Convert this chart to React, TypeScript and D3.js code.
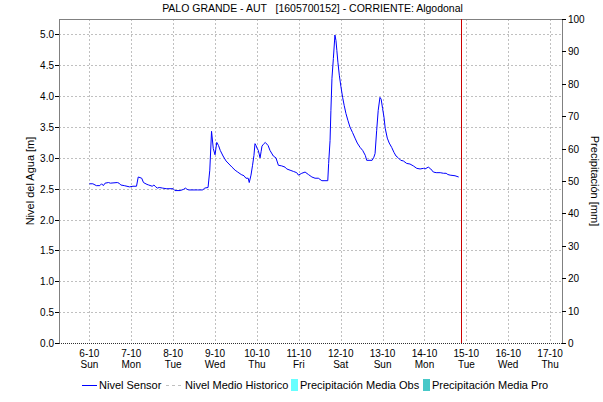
import React from "react";
import * as d3 from "d3";

const titulo = "PALO GRANDE - AUT   [1605700152] - CORRIENTE: Algodonal";
const inicio = new Date(2024, 9, 6, 0, 0);
const horas = [0, 2, 4, 6, 7, 8, 9, 11, 12, 16, 17, 18, 20, 23, 25, 27, 28, 30, 31, 33, 34, 36, 37, 38, 39, 40, 42, 44, 48, 49, 52, 54, 55, 56, 57, 62, 65, 66, 68, 69, 70, 71, 72, 73, 74, 75, 76.6, 78.3, 80, 81.7, 83.5, 85, 87, 88.6, 89.7, 91, 91.6, 92.6, 93.5, 94.3, 94.9, 95.5, 96, 96.8, 97.8, 98.4, 98.9, 99.7, 100.8, 102.4, 103.5, 105.4, 106.9, 108.3, 110.2, 112.1, 113.1, 115, 116.9, 118.8, 119.8, 121.7, 123.6, 125.5, 127.5, 129.3, 131.2, 133.2, 135, 136.6, 137.1, 137.9, 138.4, 139, 139.8, 140.7, 141.3, 141.8, 142.4, 143.2, 144.1, 145.1, 146, 147, 148.1, 149.3, 150.8, 152.2, 153.5, 155.1, 156.6, 158.1, 158.9, 162, 163, 163.7, 164.6, 165.5, 166.5, 167.2, 168, 168.8, 169.5, 170.7, 171.8, 173.2, 174.5, 175.7, 177, 178.4, 179.9, 181.8, 183.7, 185.6, 187.6, 189.5, 191.4, 192.3, 194.2, 195.6, 197.1, 198.7, 201, 202.9, 204.4, 205.4, 206.7, 209.5, 211.6];
const nivel = [2.58, 2.58, 2.55, 2.55, 2.58, 2.55, 2.59, 2.60, 2.59, 2.60, 2.59, 2.56, 2.55, 2.53, 2.54, 2.54, 2.69, 2.67, 2.60, 2.57, 2.56, 2.54, 2.56, 2.53, 2.51, 2.52, 2.51, 2.50, 2.50, 2.47, 2.47, 2.49, 2.51, 2.49, 2.48, 2.48, 2.48, 2.51, 2.52, 2.80, 3.43, 3.15, 3.05, 3.25, 3.20, 3.12, 3.03, 2.95, 2.90, 2.85, 2.80, 2.77, 2.73, 2.71, 2.67, 2.67, 2.60, 2.72, 2.88, 3.04, 3.23, 3.20, 3.16, 3.12, 3.00, 3.10, 3.19, 3.22, 3.25, 3.20, 3.12, 3.03, 3.00, 2.88, 2.87, 2.85, 2.82, 2.80, 2.78, 2.76, 2.72, 2.75, 2.77, 2.73, 2.69, 2.67, 2.67, 2.63, 2.63, 2.63, 2.91, 3.28, 3.77, 4.29, 4.61, 4.99, 4.90, 4.74, 4.55, 4.34, 4.16, 3.98, 3.85, 3.72, 3.61, 3.50, 3.41, 3.32, 3.24, 3.17, 3.12, 3.04, 2.96, 2.96, 3.01, 3.07, 3.44, 3.77, 3.98, 3.95, 3.80, 3.66, 3.48, 3.32, 3.24, 3.17, 3.09, 3.03, 3.00, 2.96, 2.95, 2.91, 2.90, 2.87, 2.83, 2.82, 2.83, 2.82, 2.85, 2.82, 2.77, 2.76, 2.76, 2.75, 2.75, 2.73, 2.72, 2.71, 2.69];
const dominioInicio = new Date(2024, 9, 5, 6, 36);
const dominioFin = new Date(2024, 9, 17, 6, 48);
const ahora = new Date(2024, 9, 14, 21, 6);
const dias = d3.timeDay.range(new Date(2024, 9, 6), new Date(2024, 9, 18));
const diasSemana = ["Sun", "Mon", "Tue", "Wed", "Thu", "Fri", "Sat"];
const ticksNivel = [0, 0.5, 1, 1.5, 2, 2.5, 3, 3.5, 4, 4.5, 5];
const ticksPrecip = [0, 10, 20, 30, 40, 50, 60, 70, 80, 90, 100];
const leyenda = ["Nivel Sensor", "Nivel Medio Historico", "Precipitación Media Obs", "Precipitación Media Pro"];

const W = 603, H = 402;
const L = 59, R = 562, T = 19, B = 343;
const font = "'Liberation Sans', Arial, sans-serif";

export default function App() {
  const x = d3.scaleTime().domain([dominioInicio, dominioFin]).range([L, R]);
  const y = d3.scaleLinear().domain([0, 5.25]).range([B, T]);
  const y2 = d3.scaleLinear().domain([0, 100]).range([B, T]);
  const datos = horas.map((h, i) => ({ t: new Date(inicio.getTime() + h * 3600000), v: nivel[i] }));
  const linea = d3.line<{ t: Date; v: number }>().x(d => x(d.t)).y(d => y(d.v));
  const grid = "#c0c0c0";
  const etiquetaDia = (d: Date) => `${d.getDate()}-${d.getMonth() + 1}`;
  return (
    <div style={{ position: "absolute", left: 0, top: 0 }}>
      <svg width={W} height={H} style={{ display: "block", fontFamily: font }}>
        <rect x={0} y={0} width={W} height={H} fill="#fff" />
        <text x={(L + R) / 2 + 2} y={12} textAnchor="middle" fontSize={10.5} fill="#000" style={{ whiteSpace: "pre" }}>{titulo}</text>
        {ticksNivel.filter(t => t > 0).map(t => (
          <line key={"hg" + t} x1={L} x2={R} y1={Math.round(y(t)) + 0.5} y2={Math.round(y(t)) + 0.5} stroke={grid} strokeDasharray="2,2" />
        ))}
        {dias.map(d => (
          <line key={"vg" + d.getTime()} x1={Math.round(x(d)) + 0.5} x2={Math.round(x(d)) + 0.5} y1={T} y2={B} stroke={grid} strokeDasharray="2,2" />
        ))}
        <line x1={L} x2={R} y1={T + 0.5} y2={T + 0.5} stroke="#808080" />
        <line x1={L + 0.5} x2={L + 0.5} y1={T} y2={B} stroke="#808080" />
        <line x1={R + 0.5} x2={R + 0.5} y1={T} y2={B} stroke="#808080" />
        <line x1={L} x2={R} y1={B + 0.5} y2={B + 0.5} stroke="#303030" strokeDasharray="1,1" />
        <path d={linea(datos) || ""} fill="none" stroke="#0000ff" strokeWidth={1} />
        <line x1={Math.round(x(ahora)) + 0.5} x2={Math.round(x(ahora)) + 0.5} y1={T} y2={B} stroke="#cc0000" />
        {ticksNivel.map(t => (
          <g key={"yl" + t}>
            <line x1={L - 4} x2={L} y1={Math.round(y(t)) + 0.5} y2={Math.round(y(t)) + 0.5} stroke="#000" />
            <text x={L - 5} y={y(t) + 4} textAnchor="end" fontSize={10} fill="#000">{t.toFixed(1)}</text>
          </g>
        ))}
        {ticksPrecip.map(t => (
          <g key={"yr" + t}>
            <line x1={R} x2={R + 4} y1={Math.round(y2(t)) + 0.5} y2={Math.round(y2(t)) + 0.5} stroke="#000" />
            <text x={R + 6} y={y2(t) + 4} textAnchor="start" fontSize={10} fill="#000">{t}</text>
          </g>
        ))}
        {dias.map(d => (
          <g key={"xl" + d.getTime()}>
            <text x={x(d)} y={357} textAnchor="middle" fontSize={10} fill="#000">{etiquetaDia(d)}</text>
            <text x={x(d)} y={368} textAnchor="middle" fontSize={10} fill="#000">{diasSemana[d.getDay()]}</text>
          </g>
        ))}
        <text transform={`translate(34,${(T + B) / 2}) rotate(-90)`} textAnchor="middle" fontSize={11} fill="#000">Nivel del Agua [m]</text>
        <text transform={`translate(591,${(T + B) / 2}) rotate(90)`} textAnchor="middle" fontSize={11} fill="#000">Precipitación [mm]</text>
        <g fontSize={11} fill="#000">
          <line x1={82} x2={97} y1={385.5} y2={385.5} stroke="#0000ff" />
          <text x={99} y={389}>{leyenda[0]}</text>
          <line x1={166} x2={181} y1={385.5} y2={385.5} stroke={grid} strokeDasharray="3,3" />
          <text x={185} y={389}>{leyenda[1]}</text>
          <rect x={291} y={379} width={7} height={12} fill="#66ffff" />
          <text x={300} y={389}>{leyenda[2]}</text>
          <rect x={423} y={379} width={7} height={12} fill="#48c8c8" />
          <text x={432} y={389}>{leyenda[3]}</text>
        </g>
      </svg>
    </div>
  );
}
